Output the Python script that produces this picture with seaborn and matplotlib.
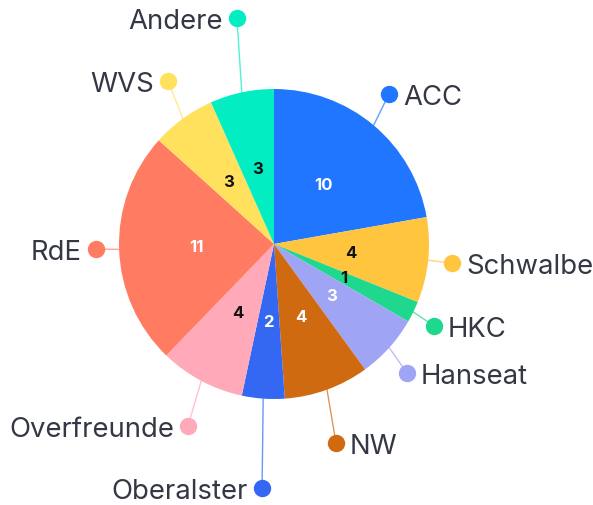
import matplotlib
matplotlib.use("Agg")
import matplotlib.pyplot as plt
import seaborn as sns
import numpy as np

categories = ["ACC", "Schwalbe", "HKC", "Hanseat", "NW", "Oberalster",
              "Overfreunde", "RdE", "WVS", "Andere"]
values = [10, 4, 1, 3, 4, 2, 4, 11, 3, 3]
colors = ["#2176FF", "#FFC53F", "#1FD88E", "#9FA4F5", "#CF6A10", "#3568F2",
          "#FFA9B9", "#FF7C62", "#FFE15E", "#03EDC2"]
value_text_colors = ["white", "#111111", "#111111", "white", "white", "white",
                     "#111111", "white", "#111111", "#111111"]

# layout: label dot positions in pie-radius units
dot_pos = [(0.742, 0.968), (1.148, -0.123), (1.032, -0.529), (0.858, -0.832),
           (0.40, -1.284), (-0.077, -1.575), (-0.555, -1.174), (-1.148, -0.032),
           (-0.684, 1.052), (-0.239, 1.458)]

sns.set_theme(style="white")
plt.rcParams['font.family'] = ['Inter', 'DejaVu Sans']

fig = plt.figure(figsize=(5.93, 5.06), dpi=100)
ax = fig.add_axes([0, 0, 1, 1])

wedges, _ = ax.pie(values, colors=colors, startangle=90, counterclock=False,
                   radius=1.0, wedgeprops=dict(linewidth=0))

ax.set_xlim(-274 / 155, (593 - 274) / 155)
ax.set_ylim(-(506 - 245) / 155, 245 / 155)
ax.set_aspect('equal')
ax.axis('off')

for i, w in enumerate(wedges):
    ang = np.deg2rad((w.theta1 + w.theta2) / 2)
    cx, cy = np.cos(ang), np.sin(ang)
    ax.text(0.5 * cx, 0.5 * cy, str(values[i]), ha='center', va='center',
            fontsize=12, fontweight='bold', color=value_text_colors[i])
    dx, dy = dot_pos[i]
    ax.plot([cx, dx], [cy, dy], color=colors[i], lw=1.0, alpha=0.7, zorder=1)
    ax.plot([dx], [dy], 'o', color=colors[i], markersize=11.5, zorder=3)
    if dx >= 0.3:
        ax.text(dx + 0.09, dy, categories[i], ha='left', va='center_baseline',
                fontsize=19.8, color='#333844')
    else:
        ax.text(dx - 0.09, dy, categories[i], ha='right', va='center_baseline',
                fontsize=19.8, color='#333844')

fig.savefig("out.png", dpi=100)
